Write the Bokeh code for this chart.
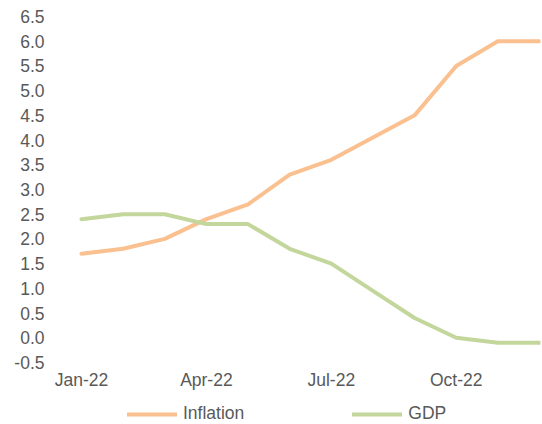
from bokeh.plotting import figure
from bokeh.models import Range1d, FixedTicker, Legend, LegendItem
from bokeh.embed import file_html
from bokeh.resources import INLINE

months = ["Jan-22", "Feb-22", "Mar-22", "Apr-22", "May-22", "Jun-22",
          "Jul-22", "Aug-22", "Sep-22", "Oct-22", "Nov-22", "Dec-22"]
inflation = [1.7, 1.8, 2.0, 2.4, 2.7, 3.3, 3.6, 4.05, 4.5, 5.5, 6.0, 6.0]
gdp = [2.4, 2.5, 2.5, 2.3, 2.3, 1.8, 1.5, 0.95, 0.4, 0.0, -0.1, -0.1]
y_ticks = [-0.5, 0.0, 0.5, 1.0, 1.5, 2.0, 2.5, 3.0, 3.5, 4.0, 4.5, 5.0, 5.5, 6.0, 6.5]
x_tick_idx = [0, 3, 6, 9]

x = list(range(len(months)))
FONT = "Liberation Sans"
GREY = "#595959"
FS = "17.5px"

W, H = 542, 424
FL, FR, FT, FB = 50, 540, 16, 424          # frame edges in canvas px
px_month = (539 - 81) / 11
px_unit = (362 - 16) / 7.0
x0 = -(81 - FL) / px_month
x1 = 11 + (FR - 539) / px_month
y0 = -0.5 - (FB - 362) / px_unit

p = figure(width=W, height=H, output_backend="svg", toolbar_location=None,
           x_range=Range1d(x0, x1), y_range=Range1d(y0, 6.5),
           min_border_left=FL, min_border_right=W - FR, min_border_top=FT,
           min_border_bottom=H - FB)
p.outline_line_color = None
p.xgrid.grid_line_color = None
p.ygrid.grid_line_color = None
p.background_fill_color = "white"
p.border_fill_color = "white"

r1 = p.line(x, inflation, line_color="#FAC090", line_width=4, line_cap="round", line_join="round")
r2 = p.line(x, gdp, line_color="#C3D69B", line_width=4, line_cap="round", line_join="round")

for ax in (p.xaxis[0], p.yaxis[0]):
    ax.axis_line_color = None
    ax.major_tick_line_color = None
    ax.minor_tick_line_color = None
    ax.major_label_text_color = GREY
    ax.major_label_text_font = FONT
    ax.major_label_text_font_size = FS

p.yaxis[0].ticker = FixedTicker(ticks=y_ticks)
p.yaxis[0].major_label_overrides = {t: f"{t:.1f}" for t in y_ticks}
p.yaxis[0].major_label_standoff = 0
p.xaxis[0].ticker = FixedTicker(ticks=x_tick_idx)
p.xaxis[0].major_label_overrides = {i: months[i] for i in x_tick_idx}
p.xaxis[0].major_label_standoff = 1
p.xaxis[0].fixed_location = y_ticks[0]

legend = Legend(items=[LegendItem(label="Inflation", renderers=[r1]),
                       LegendItem(label="GDP", renderers=[r2])],
                orientation="horizontal", location=(127 - FL, 0),
                glyph_width=50, glyph_height=20, label_standoff=6, spacing=108,
                padding=0, margin=0,
                border_line_color=None, background_fill_alpha=0,
                label_text_font=FONT, label_text_font_size=FS, label_text_color=GREY)
p.add_layout(legend, "center")

open("out.html", "w").write(file_html(p, INLINE))
